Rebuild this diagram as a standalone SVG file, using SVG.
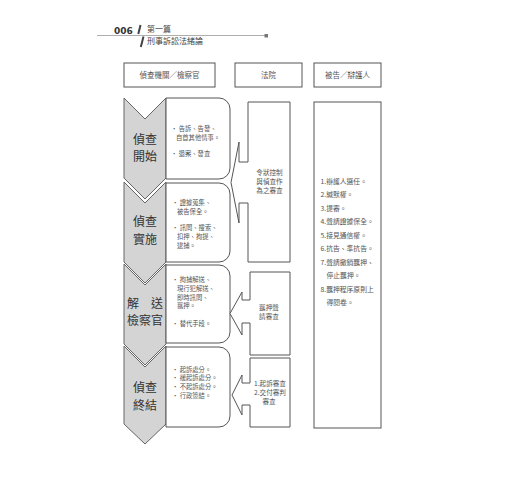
<svg xmlns="http://www.w3.org/2000/svg" width="520" height="500" viewBox="0 0 520 500">
<style>
text{font-family:"Noto Sans CJK TC","Noto Sans CJK SC",sans-serif;fill:#555;}
.hd{font-size:7.5px;text-anchor:middle;}
.sm{font-size:6.3px;}
.ct{font-size:6.6px;text-anchor:middle;}
.rt{font-size:6.8px;}
.big{font-size:12px;text-anchor:middle;fill:#333;}
.box{fill:#fff;stroke:#555;stroke-width:1;}
.chev{fill:#d4d4d4;stroke:#666;stroke-width:1;}
</style>
<rect width="520" height="500" fill="#fff"/>
<g id="page-header">
<line x1="97" y1="35.5" x2="265" y2="35.5" stroke="#999" stroke-width="0.8"/>
<rect x="264.5" y="34" width="3.5" height="3.5" fill="#777"/>
<text x="114" y="34" style="font-family:'DejaVu Sans',sans-serif;font-size:9px;font-weight:bold;fill:#333">006</text>
<line x1="140.5" y1="25" x2="138.3" y2="34" stroke="#444" stroke-width="2"/>
<line x1="143.5" y1="36.5" x2="140.8" y2="47" stroke="#444" stroke-width="2"/>
<text style="font-size:8px;fill:#444"><tspan x="147" y="32">第一篇</tspan><tspan x="147" y="44">刑事訴訟法緒論</tspan></text>
</g>
<g id="col-headers">
<g id="hdr-prosecutor"><rect class="box" x="124" y="63" width="91" height="24"/><text class="hd" x="169.5" y="78">偵查機關／檢察官</text></g>
<g id="hdr-court"><rect class="box" x="235" y="63" width="67" height="24"/><text class="hd" x="268.5" y="78">法院</text></g>
<g id="hdr-defendant"><rect class="box" x="314" y="63" width="67" height="24"/><text class="hd" x="347.5" y="78">被告／辯護人</text></g>
</g>
<g id="stage1">
<path class="chev" d="M124,98 L145,119 L166,98 L166,178 L145,199 L124,178 Z"/>
<text class="big"><tspan x="145" y="143.5">偵查</tspan><tspan x="145" y="161">開始</tspan></text>
</g>
<g id="stage2">
<path class="chev" d="M124,182 L145,203 L166,182 L166,262 L145,283 L124,262 Z"/>
<text class="big"><tspan x="145" y="226">偵查</tspan><tspan x="145" y="243.5">實施</tspan></text>
</g>
<g id="stage3">
<path class="chev" d="M124,264 L145,285 L166,264 L166,344 L145,365 L124,344 Z"/>
<text class="big" xml:space="preserve"><tspan x="145" y="307.5">解　送</tspan><tspan x="145" y="325">檢察官</tspan></text>
</g>
<g id="stage4">
<path class="chev" d="M124,346 L145,367 L166,346 L166,424 L145,444 L124,424 Z"/>
<text class="big"><tspan x="145" y="392">偵查</tspan><tspan x="145" y="409.5">終結</tspan></text>
</g>
<g id="box1">
<path class="box" d="M166,98 H219 A11,11 0 0 1 230,109 V168 A11,11 0 0 1 219,179 H166 Z"/>
<text class="sm"><tspan x="171" y="130.5">• 告訴、告發、</tspan><tspan x="176" y="139.5">自首其他情事。</tspan><tspan x="171" y="155.5">• 退案、發查</tspan></text>
</g>
<g id="box2">
<path class="box" d="M166,183 H219 A11,11 0 0 1 230,194 V251 A11,11 0 0 1 219,262 H166 Z"/>
<text class="sm"><tspan x="172" y="205">• 證據蒐集、</tspan><tspan x="177" y="213.8">被告保全。</tspan><tspan x="172" y="230">• 訊問、搜索、</tspan><tspan x="177" y="238.8">扣押、拘提、</tspan><tspan x="177" y="247.6">逮捕。</tspan></text>
</g>
<g id="box3">
<path class="box" d="M166,265 H219 A11,11 0 0 1 230,276 V332 A11,11 0 0 1 219,343 H166 Z"/>
<text class="sm"><tspan x="172" y="282">• 拘捕解送、</tspan><tspan x="177" y="290.8">現行犯解送、</tspan><tspan x="177" y="299.6">即時訊問、</tspan><tspan x="177" y="308.4">羈押。</tspan><tspan x="172" y="325.5">• 替代手段。</tspan></text>
</g>
<g id="box4">
<path class="box" d="M166,347 H219 A11,11 0 0 1 230,358 V416 A11,11 0 0 1 219,427 H166 Z"/>
<text class="sm"><tspan x="172" y="371.5">• 起訴處分。</tspan><tspan x="172" y="380.3">• 緩起訴處分。</tspan><tspan x="172" y="389.1">• 不起訴處分。</tspan><tspan x="172" y="397.9">• 行政簽結。</tspan></text>
</g>
<g id="connectors">
<g id="court1">
<path class="box" d="M248,102 H290 V262 H248 V203 H239 V223 L231,182.5 L239,142 V162 H248 Z"/>
<text class="ct"><tspan x="269.5" y="174.5">令狀控制</tspan><tspan x="269.5" y="183.5">與偵查作</tspan><tspan x="269.5" y="192.5">為之審查</tspan></text>
</g>
<g id="court2">
<path class="box" d="M250,272 H290 V355 H250 V323 H242 V335 L230,313.5 L242,292 V300 H250 Z"/>
<text class="ct"><tspan x="269" y="309.5">羈押聲</tspan><tspan x="269" y="318.5">請審查</tspan></text>
</g>
<g id="court3">
<path class="box" d="M250,358 H290 V427 H250 V405 H242 V415 L232,395 L242,375 V383 H250 Z"/>
<text class="ct"><tspan x="270" y="385.5">1.起訴審查</tspan><tspan x="270" y="394.5">2.交付審判</tspan><tspan x="269" y="403.5">審查</tspan></text>
</g>
</g>
<g id="rights">
<rect class="box" x="314" y="102" width="67" height="326"/>
<text class="rt"><tspan x="320.5" y="183.5">1.辯護人選任。</tspan><tspan x="320.5" y="197">2.緘默權。</tspan><tspan x="320.5" y="210.5">3.提審。</tspan><tspan x="320.5" y="224">4.聲請證據保全。</tspan><tspan x="320.5" y="237.5">5.接見通信權。</tspan><tspan x="320.5" y="251">6.抗告、準抗告。</tspan><tspan x="320.5" y="264.5">7.聲請撤銷羈押、</tspan><tspan x="326.5" y="278">停止羈押。</tspan><tspan x="320.5" y="291.5">8.羈押程序原則上</tspan><tspan x="326.5" y="305">得閱卷。</tspan></text>
</g>
</svg>
